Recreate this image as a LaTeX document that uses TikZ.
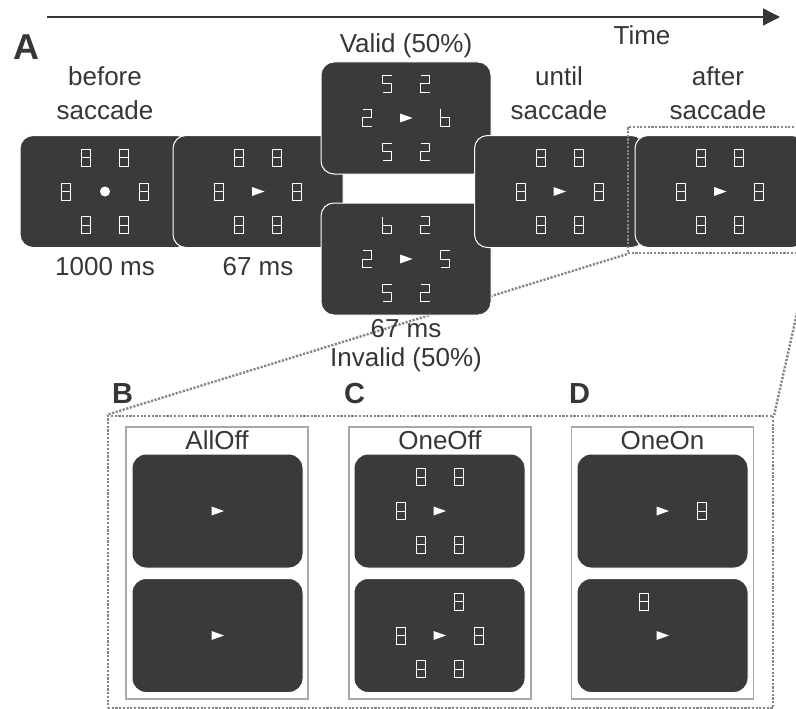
\documentclass[tikz,border=0pt]{standalone}
\usepackage{fontspec}
\setmainfont{Liberation Sans}
\usetikzlibrary{arrows.meta,backgrounds}
\definecolor{scr}{HTML}{3A3A3C}
\definecolor{txt}{HTML}{363636}
\definecolor{dotc}{HTML}{868686}
\definecolor{boxc}{HTML}{A8A8A8}
\newcommand{\scrfill}[9]{%
  \pic at ({#1-19},{#2-34}) {#3};
  \pic at ({#1+19},{#2-34}) {#4};
  \pic at ({#1-39},{#2}) {#5};
  \pic at ({#1},{#2}) {#6};
  \pic at ({#1+39},{#2}) {#7};
  \pic at ({#1-19},{#2+33.5}) {#8};
  \pic at ({#1+19},{#2+33.5}) {#9};
}
\begin{document}
\begin{tikzpicture}[x=1pt,y=-1pt,
  screen/.style={rounded corners=13pt, fill=scr, draw=white, line width=1pt,
    minimum width=170pt, minimum height=112pt, inner sep=0pt},
  subscreen/.style={screen, minimum width=171pt, minimum height=114pt, rounded corners=14pt},
  panel/.style={draw=boxc, fill=white, line width=1.2pt, minimum width=182pt,
    minimum height=272pt, inner sep=0pt},
  dotline/.style={draw=dotc, line width=2.4pt, dash pattern=on 2.2pt off 1.5pt},
  lbl/.style={font=\fontsize{26}{30}\selectfont, text=txt, anchor=base, inner sep=0pt},
  letter/.style={font=\fontsize{29}{32}\selectfont\bfseries, text=txt, anchor=base west, inner sep=0pt},
  seg/.style={draw=white, line width=1pt, line join=miter},
  d8/.pic={\draw[seg] (-4.5,-8.5) rectangle (4.5,8.5) (-4.5,0) -- (4.5,0);},
  d2/.pic={\draw[seg] (-4.5,-8.5) -- (4.5,-8.5) -- (4.5,0) -- (-4.5,0) -- (-4.5,8.5) -- (4.5,8.5);},
  d5/.pic={\draw[seg] (4.5,-8.5) -- (-4.5,-8.5) -- (-4.5,0) -- (4.5,0) -- (4.5,8.5) -- (-4.5,8.5);},
  d6/.pic={\draw[seg] (-4.5,-8.5) -- (-4.5,8.5) -- (4.5,8.5) -- (4.5,0) -- (-4.5,0);},
  arw/.pic={\fill[white] (-6,-4.5) -- (6.5,0) -- (-6,4.5) -- cycle;},
  fixdot/.pic={\fill[white] (0,0) circle (5pt);},
  none/.pic={}
]
\useasboundingbox (0,0) rectangle (796,709);
\clip (0,0) rectangle (796,709);

% timeline
\coordinate (t0) at (47,17);
\coordinate (t1) at (780,17);
\draw[draw=txt, line width=1.3pt, -{Triangle[length=17pt,width=17pt]}] (t0) -- (t1);
\node[lbl] (time) at (642,45) {Time};

% panel letters
\node[letter, font=\fontsize{36}{38}\selectfont\bfseries] (lA) at (13,60) {A};
\node[letter] (lB) at (112,403) {B};
\node[letter] (lC) at (344,403) {C};
\node[letter] (lD) at (569,403) {D};

% labels top row
\node[lbl] (bef1) at (105,86) {before};
\node[lbl] (bef2) at (105,119) {saccade};
\node[lbl] (unt1) at (559,86) {until};
\node[lbl] (unt2) at (559,119) {saccade};
\node[lbl] (aft1) at (718,86) {after};
\node[lbl] (aft2) at (718,119) {saccade};
\node[lbl] (valid) at (406,53) {Valid (50\%)};
\node[lbl] (t1000) at (105,275) {1000 ms};
\node[lbl] (t67a) at (258,275) {67 ms};
\node[lbl] (t67b) at (406,337) {67 ms};
\node[lbl] (invalid) at (406,366) {Invalid (50\%)};

% screens of the trial sequence
\node[screen] (s1) at (105,191.5) {};
\scrfill{105}{191.5}{d8}{d8}{d8}{fixdot}{d8}{d8}{d8}
\node[screen] (s2) at (258,191.5) {};
\scrfill{258}{191.5}{d8}{d8}{d8}{arw}{d8}{d8}{d8}
\node[screen] (sv) at (406,118) {};
\scrfill{406}{118}{d5}{d2}{d2}{arw}{d6}{d5}{d2}
\node[screen] (si) at (406,259) {};
\scrfill{406}{259}{d6}{d2}{d2}{arw}{d5}{d5}{d2}
\node[screen] (su) at (559.5,191.5) {};
\scrfill{559.5}{191.5}{d8}{d8}{d8}{arw}{d8}{d8}{d8}
\node[screen] (sa) at (720,191.5) {};
\scrfill{720}{191.5}{d8}{d8}{d8}{arw}{d8}{d8}{d8}

% zoom frame around the after-saccade screen
\node[dotline, minimum width=181pt, minimum height=126pt, inner sep=0pt] (zsrc) at (718.5,190) {};

% enlarged area
\node[dotline, minimum width=665pt, minimum height=292pt, inner sep=0pt] (zdst) at (440.5,562) {};

% panels B, C, D
\node[panel] (pB) at (217,563) {};
\node[panel] (pC) at (440,563) {};
\node[panel] (pD) at (662.5,563) {};
\node[lbl] (nB) at (217,449) {AllOff};
\node[lbl] (nC) at (440,449) {OneOff};
\node[lbl] (nD) at (662.5,449) {OneOn};

\node[subscreen] (b1) at (217.5,511) {};
\scrfill{217.5}{511}{none}{none}{none}{arw}{none}{none}{none}
\node[subscreen] (b2) at (217.5,635.5) {};
\scrfill{217.5}{635.5}{none}{none}{none}{arw}{none}{none}{none}
\node[subscreen] (c1) at (439.5,511) {};
\scrfill{439.5}{511}{d8}{d8}{d8}{arw}{none}{d8}{d8}
\node[subscreen] (c2) at (439.5,635.5) {};
\scrfill{439.5}{635.5}{none}{d8}{d8}{arw}{d8}{d8}{d8}
\node[subscreen] (e1) at (662.5,511) {};
\scrfill{662.5}{511}{none}{none}{none}{arw}{d8}{none}{none}
\node[subscreen] (e2) at (662.5,635.5) {};
\scrfill{662.5}{635.5}{d8}{none}{none}{arw}{none}{none}{none}

% connectors of the zoom, behind everything
\begin{pgfonlayer}{background}
\draw[dotline] (zsrc.south west) -- (zdst.north west);
\draw[dotline] (zsrc.south east) -- (zdst.north east);
\end{pgfonlayer}
\end{tikzpicture}
\end{document}
